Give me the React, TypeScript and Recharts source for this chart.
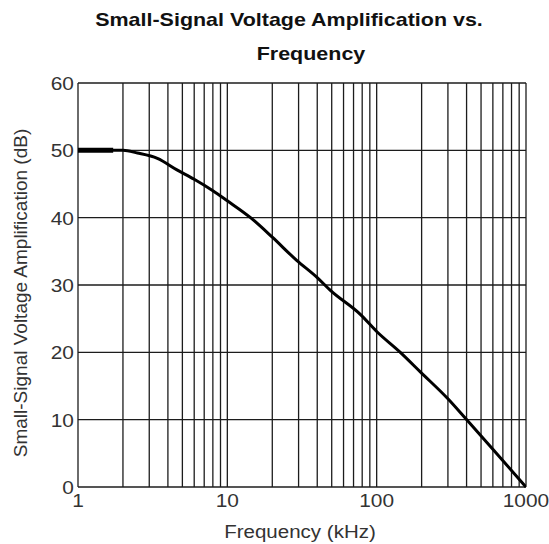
import React from 'react';
import { LineChart, Line, XAxis, YAxis, CartesianGrid, ReferenceLine } from 'recharts';

// frequency in kHz, gain in dB
const freqs = [1, 1.5, 2, 2.5, 3.4, 4.6, 6, 8, 10, 14.3, 20, 29, 40, 49, 78, 100, 144, 196, 300, 393, 608, 1000];
const gains = [50, 50, 50, 49.6, 48.8, 47.1, 45.7, 44, 42.5, 40, 37.1, 33.7, 31.1, 29.2, 25.6, 23.1, 20, 17.1, 13.1, 10.2, 5.45, 0];

// short heavy stroke at the start of the curve
const flatFreqs = [1, 1.72];
const flatGains = [50, 50];

const xTicks = [1, 10, 100, 1000];
const yTicks = [0, 10, 20, 30, 40, 50, 60];
const xGrid = [
  1, 2, 3, 4, 5, 6, 7, 8, 9,
  10, 20, 30, 40, 50, 60, 70, 80, 90,
  100, 200, 300, 400, 500, 600, 700, 800, 900,
  1000,
];

const curve = freqs.map((f, i) => ({ f, g: gains[i] }));
const flat = flatFreqs.map((f, i) => ({ f, g: flatGains[i] }));

const FONT = '"Liberation Sans", Arial, sans-serif';
const INK = '#1c1c1c';
const LABEL = '#333';

const XTick = ({ x, y, payload }: any) => (
  <text
    transform={`translate(${x},${y + 20}) scale(1.1,1)`}
    textAnchor="middle"
    fontFamily={FONT}
    fontSize={19}
    fill={LABEL}
  >
    {payload.value}
  </text>
);

const YTick = ({ x, y, payload }: any) => (
  <text
    transform={`translate(${x - 4},${y}) scale(1.1,1)`}
    textAnchor="end"
    dy="0.36em"
    fontFamily={FONT}
    fontSize={19}
    fill={LABEL}
  >
    {payload.value}
  </text>
);

export default function App() {
  return (
    <div style={{ position: 'absolute', left: 0, top: 0, width: 549, height: 544, background: '#fff' }}>
      <LineChart width={549} height={544} margin={{ top: 83, right: 23, bottom: 0, left: 0 }}>
        <CartesianGrid stroke={INK} strokeWidth={1.3} vertical={false} horizontalValues={yTicks} />
        <XAxis
          dataKey="f"
          type="number"
          scale="log"
          domain={[1, 1000]}
          ticks={xTicks}
          axisLine={false}
          tickLine={false}
          tickSize={0}
          tickMargin={0}
          height={57}
          tick={<XTick />}
          allowDataOverflow
        />
        <YAxis
          dataKey="g"
          type="number"
          domain={[0, 60]}
          ticks={yTicks}
          axisLine={false}
          tickLine={false}
          tickSize={0}
          tickMargin={0}
          width={78}
          tick={<YTick />}
        />
        {xGrid.map((v) => (
          <ReferenceLine key={v} x={v} stroke={INK} strokeWidth={1.3} ifOverflow="visible" />
        ))}
        <Line data={curve} dataKey="g" type="monotone" stroke="#000" strokeWidth={3} dot={false} isAnimationActive={false} />
        <Line data={flat} dataKey="g" type="linear" stroke="#000" strokeWidth={5} dot={false} isAnimationActive={false} />
      </LineChart>
      <svg
        width={549}
        height={544}
        style={{ position: 'absolute', left: 0, top: 0, pointerEvents: 'none' }}
        fontFamily={FONT}
      >
        <text transform="translate(289,26) scale(1.13,1)" textAnchor="middle" fontSize={19} fontWeight="bold" fill="#111">
          Small-Signal Voltage Amplification vs.
        </text>
        <text transform="translate(311,59.5) scale(1.13,1)" textAnchor="middle" fontSize={19} fontWeight="bold" fill="#111">
          Frequency
        </text>
        <text transform="translate(300,538) scale(1.08,1)" textAnchor="middle" fontSize={19} fill={LABEL}>
          Frequency (kHz)
        </text>
        <text transform="translate(27,293) rotate(-90)" textAnchor="middle" fontSize={19} fill={LABEL}>
          Small-Signal Voltage Amplification (dB)
        </text>
      </svg>
    </div>
  );
}
